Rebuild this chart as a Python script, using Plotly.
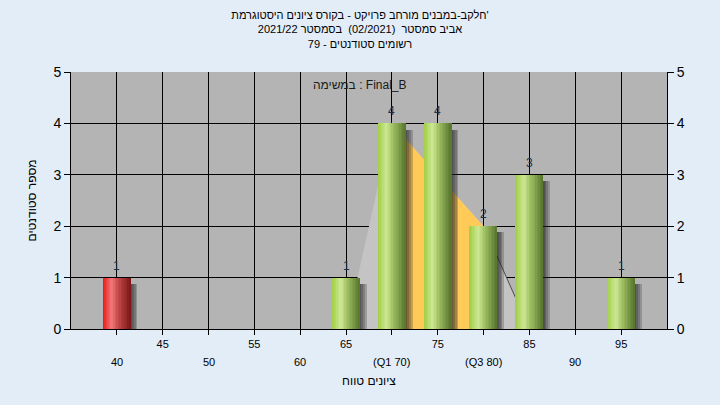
import numpy as np
import plotly.graph_objects as go

# ---- data ----
categories = [40, 45, 50, 55, 60, 65, 70, 75, 80, 85, 90, 95]
tick_labels = ["40", "45", "50", "55", "60", "65", "(Q1 70)", "75", "(Q3 80)", "85", "90", "95"]
bar_x = [40, 65, 70, 75, 80, 85, 95]
bar_y = [1, 1, 4, 4, 2, 3, 1]
failing_below = 55
curve_x = [65, 70, 80, 85]
curve_y = [0, 4, 2, 0]
q1 = 70
q3 = 80

# texts, in the right-to-left reading order in which the chart shows them
title_lines = [
    "חלקב-במבנים מורחב פרויקט - בקורס ציונים היסטוגרמת'",
    "2021/22 אביב סמסטר  (02/2021)  בסמסטר",
    "79 - רשומים סטודנטים",
]
task_label = "במשימה : Final_B"
x_title = "ציונים טווח"
y_title = "מספר סטודנטים"

FONT = "Liberation Sans, DejaVu Sans, sans-serif"
BAR_W = 3.0
N_SLICES = 18


def hex2rgb(h):
    h = h.lstrip('#')
    return np.array([int(h[i:i + 2], 16) for i in (0, 2, 4)], dtype=float)


def grad(stops, t):
    pos = [s[0] for s in stops]
    cols = np.array([hex2rgb(s[1]) for s in stops])
    c = [np.interp(t, pos, cols[:, k]) for k in range(3)]
    return 'rgb(%d,%d,%d)' % tuple(int(round(v)) for v in c)


def path_from(xs, ys):
    return "M" + " L".join("%g,%g" % (a, b) for a, b in zip(xs, ys)) + " Z"


green_stops = [(0, '#9fcd42'), (0.33, '#cde897'), (0.5, '#a9c96b'), (1, '#56752b')]
red_stops = [(0, '#e81414'), (0.33, '#f27c7c'), (0.5, '#d25252'), (1, '#7a1616')]

fig = go.Figure()

shapes = []
shapes.append(dict(type='path', xref='x', yref='y', layer='between',
                   path=path_from(curve_x, curve_y), fillcolor='#c4c4c4',
                   line=dict(width=0)))
ix = [q1] + [x for x in curve_x if q1 < x < q3] + [q3]
iy = list(np.interp(ix, curve_x, curve_y))
shapes.append(dict(type='path', xref='x', yref='y', layer='between',
                   path=path_from([q1] + ix + [q3], [0] + iy + [0]), fillcolor='#ffca58',
                   line=dict(width=0)))
tx = [x for x in curve_x if x >= q3]
ty = list(np.interp(tx, curve_x, curve_y))
shapes.append(dict(type='line', xref='x', yref='y', layer='between',
                   x0=tx[0], y0=ty[0], x1=tx[-1], y1=ty[-1],
                   line=dict(color='#4a4a4a', width=1)))

# soft shadows
for k, off in enumerate([0.15, 0.35, 0.55, 0.75]):
    fig.add_trace(go.Bar(x=bar_x, y=[v - 0.12 for v in bar_y], width=BAR_W,
                         offset=-BAR_W / 2 + off,
                         marker=dict(color='rgba(35,35,35,0.24)', line=dict(width=0)),
                         hoverinfo='skip'))

# bars with cylindrical gradient built from slices
sw = BAR_W / N_SLICES
for i in range(N_SLICES):
    t = (i + 0.5) / N_SLICES
    cols = [grad(red_stops, t) if x < failing_below else grad(green_stops, t) for x in bar_x]
    fig.add_trace(go.Bar(x=bar_x, y=bar_y, width=sw * 1.02, offset=-BAR_W / 2 + i * sw,
                         marker=dict(color=cols, line=dict(width=0)), hoverinfo='skip'))

# right axis carrier
fig.add_trace(go.Scatter(x=[categories[0]], y=[0], yaxis='y2', mode='markers',
                         marker=dict(opacity=0), hoverinfo='skip'))

ticktext = ["" if i % 2 == 0 else t for i, t in enumerate(tick_labels)]
annotations = [dict(text=task_label, xref='paper', yref='y', x=(360 - 71) / 596, y=4.75,
                    showarrow=False, font=dict(family=FONT, size=12, color='#1a1a1a'))]
# lower row of x tick labels
for i, (c, t) in enumerate(zip(categories, tick_labels)):
    if i % 2 == 0:
        annotations.append(dict(text=t, xref='x', yref='paper', x=c, y=0, yshift=-33,
                                yanchor='middle', showarrow=False,
                                font=dict(family=FONT, size=11, color='black')))
# value labels above bars
for bx, by in zip(bar_x, bar_y):
    annotations.append(dict(text=str(by), xref='x', yref='y', x=bx, y=by, yshift=12,
                            yanchor='middle', showarrow=False,
                            font=dict(family=FONT, size=12, color='#1b2f48')))

fig.update_layout(
    width=720, height=405,
    margin=dict(l=71, r=53, t=72, b=76, autoexpand=False),
    paper_bgcolor='#e3edf8', plot_bgcolor='#b4b4b4',
    barmode='overlay', showlegend=False, bargap=0,
    font=dict(family=FONT, color='black'),
    title=dict(text="<br>".join(title_lines), x=0.5, xanchor='center',
               y=1 - 19 / 405, yanchor='top', font=dict(family=FONT, size=11, color='black')),
    xaxis=dict(range=[35, 100], tickmode='array', tickvals=categories, ticktext=ticktext,
               showgrid=True, gridcolor='black', gridwidth=1, ticks='outside', ticklen=5,
               tickcolor='black', showline=True, linecolor='black', zeroline=False,
               automargin=False,
               tickfont=dict(family=FONT, size=11, color='black'),
               title=dict(text=x_title, font=dict(family=FONT, size=12, color='black'),
                          standoff=27)),
    yaxis=dict(range=[0, 5], dtick=1, showgrid=True, gridcolor='black', gridwidth=1,
               ticks='outside', ticklen=6, tickcolor='black', showline=True,
               linecolor='black', zeroline=False, automargin=False,
               tickfont=dict(family=FONT, size=14, color='black'),
               title=dict(text=y_title, font=dict(family=FONT, size=12, color='black'),
                          standoff=14)),
    yaxis2=dict(range=[0, 5], dtick=1, overlaying='y', side='right', showgrid=False,
                ticks='outside', ticklen=6, tickcolor='black', showline=True,
                linecolor='black', zeroline=False, automargin=False,
                tickfont=dict(family=FONT, size=14, color='black')),
    shapes=shapes,
    annotations=annotations,
)

fig.write_html("out.html", config={"displayModeBar": False},
               post_script="document.body.style.margin='0px';")
